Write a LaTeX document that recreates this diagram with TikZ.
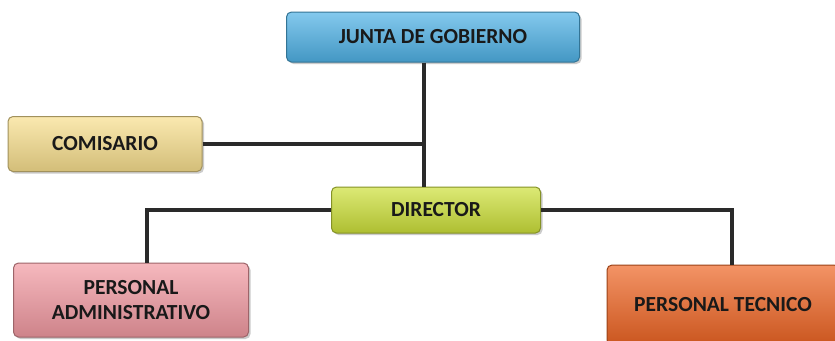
\documentclass[tikz,border=0pt]{standalone}
\usepackage{fontspec}
\setmainfont{Carlito}
\usetikzlibrary{shadows}
\definecolor{jgblue}{HTML}{4FB2E6}
\definecolor{comyellow}{HTML}{F8DF8E}
\definecolor{dirgreen}{HTML}{CDE03A}
\definecolor{admpink}{HTML}{F29AA2}
\definecolor{tecorange}{HTML}{EE6524}
\definecolor{linegray}{HTML}{2A2A2A}

\begin{document}
\begin{tikzpicture}[x=1pt, y=-1pt,
  orgbox/.style={rounded corners=5pt, draw=#1!65!black, line width=1pt,
    top color=#1!70!white, middle color=#1, bottom color=#1!85!black,
    drop shadow={shadow xshift=2pt, shadow yshift=-2pt, fill=black!40},
    font=\fontsize{21.5}{25}\selectfont\bfseries, text=black!90,
    align=center, inner sep=0pt},
  link/.style={draw=linegray, line width=3.2pt}]
  \useasboundingbox[fill=white] (0,0) rectangle (835,340);
  % boxes
  \node[orgbox=jgblue, minimum width=293pt, minimum height=50pt] (junta) at (433,37) {JUNTA DE GOBIERNO};
  \node[orgbox=comyellow, minimum width=194pt, minimum height=55pt] (comisario) at (105,144) {COMISARIO};
  \node[orgbox=dirgreen, minimum width=209pt, minimum height=46pt] (director) at (436,210) {DIRECTOR};
  \node[orgbox=admpink, minimum width=235pt, minimum height=74pt] (admin) at (131,300) {PERSONAL\\ADMINISTRATIVO};
  \node[orgbox=tecorange, minimum width=232pt, minimum height=80pt] (tecnico) at (723,305) {PERSONAL TECNICO};
  \coordinate (spine) at (424,0);
  % lines
  \draw[link] (junta.south -| spine) -- (director.north -| spine);
  \draw[link] (comisario.east) -- (comisario.east -| spine);
  \draw[link] (director.west) -| ([xshift=16pt]admin.north);
  \draw[link] (director.east) -| ([xshift=9pt]tecnico.north);
\end{tikzpicture}
\end{document}
